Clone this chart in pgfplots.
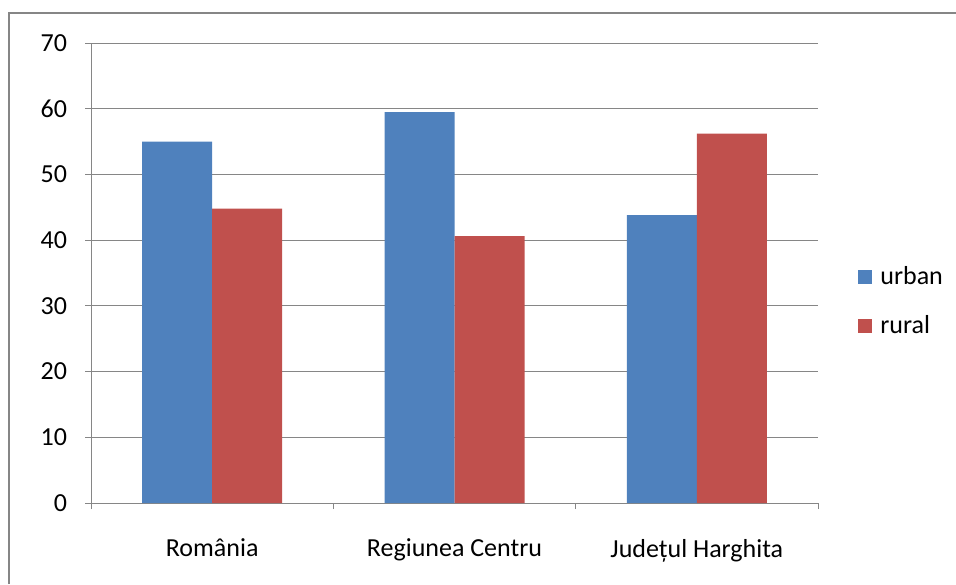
\documentclass[border=0pt]{standalone}
\usepackage{pgfplots}
\pgfplotsset{compat=1.18}
\usepackage{fontspec}
\setmainfont{Carlito}
\definecolor{xlblue}{HTML}{4F81BD}
\definecolor{xlred}{HTML}{C0504D}
\definecolor{xlgrid}{HTML}{868686}
\pgfplotsset{sq legend/.style={legend image code/.code={\fill[##1] (0pt,-3.5pt) rectangle (7pt,3.5pt);}}}

\begin{document}
\begin{tikzpicture}[x=1pt,y=1pt]
\useasboundingbox (0,0) rectangle (478,292);
\draw[xlgrid, line width=1pt] (4.5,0) -- (4.5,285.5) -- (478,285.5);
\begin{axis}[
  at={(45.5pt,40.5pt)}, anchor=south west,
  scale only axis, width=363.5pt, height=230pt,
  ymin=0, ymax=70, ytick={0,10,...,70},
  xmin=-0.5, xmax=2.5,
  xtick={0,1,2},
  xticklabels={România, Regiunea Centru, Județul Harghita},
  major x tick style={draw=none},
  minor xtick={-0.5,0.5,1.5,2.5},
  tick align=outside, major tick length=3pt, minor tick length=3pt,
  tick style={xlgrid, line width=0.5pt},
  ymajorgrids, grid style={xlgrid, line width=0.5pt},
  axis x line*=bottom, axis y line*=left,
  axis line style={xlgrid, line width=0.5pt, -},
  ybar=0pt, bar width=35pt,
  /pgf/number format/assume math mode=true,
  tick label style={font=\fontsize{13}{15}\selectfont, text=black},
  xticklabel style={yshift=-11.5pt},
  yticklabel style={xshift=-5.5pt},
  legend style={at={(1.055,0.438)}, anchor=west, draw=none, fill=none,
    font=\fontsize{13}{15}\selectfont, row sep=10pt, inner sep=0pt},
  legend cell align=left,
]
\addplot[fill=xlblue, draw=none, sq legend] coordinates {(0,55.0) (1,59.5) (2,43.8)};
\addplot[fill=xlred, draw=none, sq legend] coordinates {(0,44.8) (1,40.6) (2,56.2)};
\legend{\hspace{2pt}urban, \hspace{2pt}rural}
\end{axis}
\end{tikzpicture}
\end{document}
